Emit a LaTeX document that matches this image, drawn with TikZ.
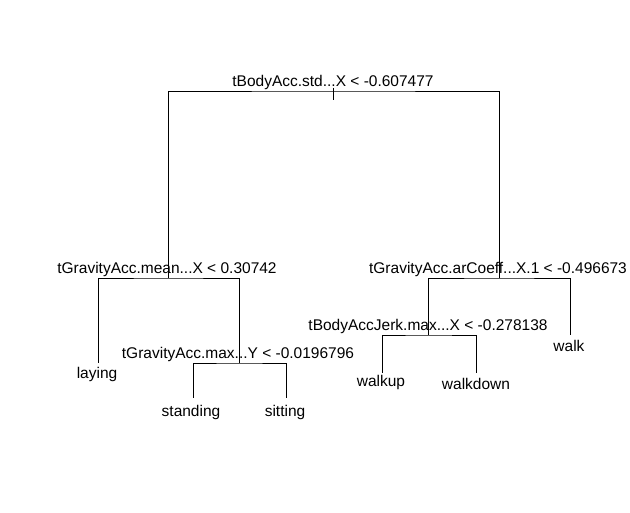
\documentclass[tikz,border=0pt]{standalone}
\usepackage{fontspec}
\setmainfont{Liberation Sans}
\tikzset{lbl/.style={anchor=base,inner sep=0pt,font=\fontsize{15.5}{18}\selectfont}}
\begin{document}
\begin{tikzpicture}[x=1pt,y=-1pt,line width=0.8pt]
  \useasboundingbox (0,0) rectangle (630,513);
  % split points
  \coordinate (n1) at (333,91); \coordinate (n2) at (168,278); \coordinate (n3) at (499,278);
  \coordinate (n5) at (239,363); \coordinate (n6) at (428,335);
  \coordinate (top) at (333,88); \coordinate (tick) at (333,100);
  % leaf ends
  \coordinate (lay) at (98,363); \coordinate (sta) at (193,398); \coordinate (sit) at (286,398);
  \coordinate (wup) at (382,373); \coordinate (wdn) at (476,373); \coordinate (wlk) at (570,335);
  % split labels
  \node[lbl] (s1) at (333,87) {tBodyAcc.std...X < -0.607477};
  \node[lbl] (s2) at (167,274) {tGravityAcc.mean...X < 0.30742};
  \node[lbl] (s3) at (498,274) {tGravityAcc.arCoeff...X.1 < -0.496673};
  \node[lbl] (s5) at (238,359) {tGravityAcc.max...Y < -0.0196796};
  \node[lbl] (s6) at (428,331) {tBodyAccJerk.max...X < -0.278138};
  % leaf labels
  \node[lbl] (l1) at (97,379) {laying};
  \node[lbl] (l2) at (191,417) {standing}; \node[lbl] (l3) at (285,417) {sitting};
  \node[lbl] (l4) at (381,387) {walkup}; \node[lbl] (l5) at (476,389) {walkdown};
  \node[lbl] (l6) at (569,352) {walk};
  % branches
  \draw (top) -- (tick);
  \draw (n2) |- (n1) -| (n3);
  \draw (lay) |- (n2) -| (n5);
  \draw (sta) |- (n5) -| (sit);
  \draw (n6) |- (n3) -| (wlk);
  \draw (wup) |- (n6) -| (wdn);
\end{tikzpicture}
\end{document}
